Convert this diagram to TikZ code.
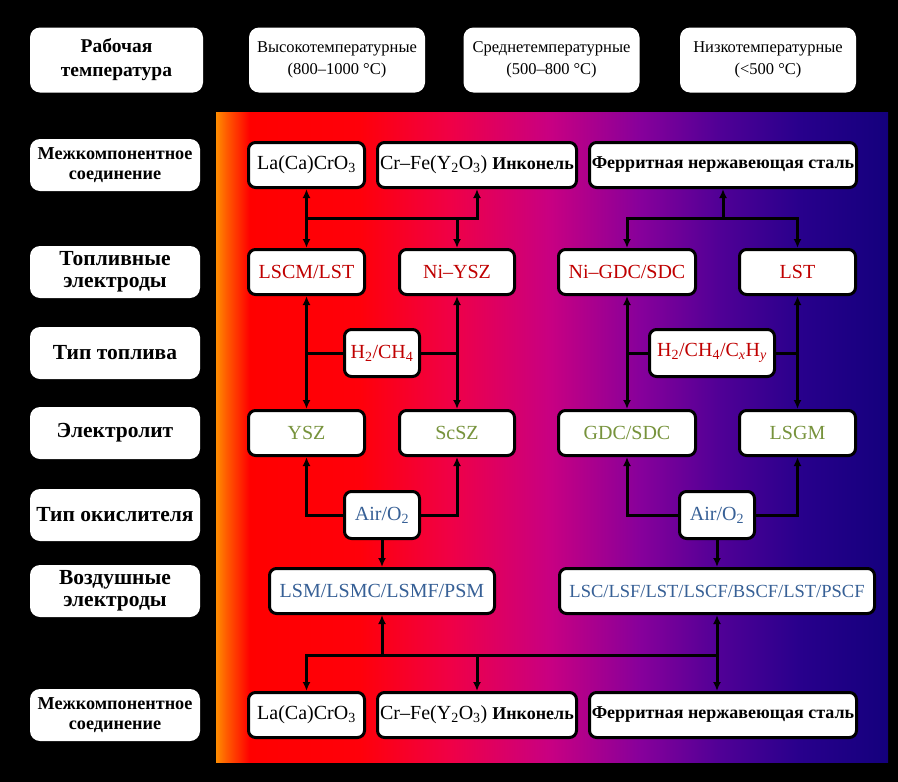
\documentclass[tikz,border=0pt]{standalone}
\usepackage{fontspec}
\IfFontExistsTF{LiberationSerif-Regular.ttf}{\setmainfont{LiberationSerif}[Extension=.ttf,UprightFont=*-Regular,BoldFont=*-Bold,ItalicFont=*-Italic,BoldItalicFont=*-BoldItalic]}{\setmainfont{DejaVu Serif}}
\usetikzlibrary{arrows.meta}
\definecolor{fred}{RGB}{192,0,0}
\definecolor{fgreen}{RGB}{119,147,60}
\definecolor{fblue}{RGB}{55,96,150}
\definecolor{ga}{RGB}{255,140,0}
\definecolor{gb}{RGB}{255,90,0}
\definecolor{gc}{RGB}{255,0,0}
\definecolor{gd}{RGB}{255,0,10}
\definecolor{ge}{RGB}{240,0,70}
\definecolor{gf}{RGB}{200,0,130}
\definecolor{gg}{RGB}{135,0,155}
\definecolor{gh}{RGB}{80,0,150}
\definecolor{gi}{RGB}{40,0,140}
\definecolor{gj}{RGB}{20,0,125}
\pgfdeclarehorizontalshading{fcgrad}{100bp}{color(0bp)=(ga); color(25bp)=(ga); color(25.8bp)=(gb); color(27.5bp)=(gc); color(35.7bp)=(gd); color(42.4bp)=(ge); color(49.85bp)=(gf); color(56.55bp)=(gg); color(62.5bp)=(gh); color(68.45bp)=(gi); color(75bp)=(gj); color(100bp)=(gj)}
\newcommand\mfont{\fontsize{20}{23}\selectfont}
\newcommand\bfont{\bfseries\fontsize{18}{22}\selectfont}
\newcommand\lfont{\bfseries\fontsize{21.5}{22}\selectfont}
\newcommand\sfont{\bfseries\fontsize{18.2}{20}\selectfont}
\newcommand\hfont{\fontsize{16.5}{21.5}\selectfont}
\begin{document}
\begin{tikzpicture}[x=1pt,y=-1pt,
  box/.style={draw=black, line width=3pt, fill=white, rounded corners=7pt, inner sep=1pt, align=center, font=\mfont, minimum height=45pt},
  lab/.style={fill=white, rounded corners=10pt, minimum width=170pt, minimum height=52pt, align=center, font=\lfont, inner sep=1pt},
  hdr/.style={fill=white, rounded corners=10pt, minimum width=176pt, minimum height=65pt, align=center, font=\hfont, inner sep=1pt},
  conn/.style={line width=3pt, draw=black},
  arr/.style={conn, -{Latex[length=9pt,width=8pt]}},
  darr/.style={conn, {Latex[length=9pt,width=8pt]}-{Latex[length=9pt,width=8pt]}}]
\fill[black] (0,0) rectangle (898,782);
\useasboundingbox (0,0) rectangle (898,782);
\shade[shading=fcgrad] (216,112) rectangle (888,762);
% header row
\node[hdr, font=\bfseries\fontsize{19.5}{24}\selectfont, minimum width=173pt] (t0) at (116.5,60) {Рабочая\\температура};
\node[hdr] (t1) at (337,60) {Высокотемпературные\\(800–1000 °C)};
\node[hdr] (t2) at (551.5,60) {Среднетемпературные\\(500–800 °C)};
\node[hdr] (t3) at (768,60) {Низкотемпературные\\(<500 °C)};
% left labels
\node[lab, font=\sfont] (l1) at (115,165) {Межкомпонентное\\соединение};
\node[lab] (l2) at (115,272) {Топливные\\электроды};
\node[lab] (l3) at (115,353) {Тип топлива};
\node[lab] (l4) at (115,433) {Электролит};
\node[lab] (l5) at (115,515) {Тип окислителя};
\node[lab] (l6) at (115,591) {Воздушные\\электроды};
\node[lab, font=\sfont] (l7) at (115,715) {Межкомпонентное\\соединение};
% row 1 interconnects
\node[box, minimum width=116pt] (ic1a) at (306.5,165) {La(Ca)CrO\textsubscript{3}};
\node[box, minimum width=199pt] (ic1b) at (477,165) {Cr–Fe(Y\textsubscript{2}O\textsubscript{3}) {\bfont Инконель}};
\node[box, minimum width=267pt] (ic1c) at (723,165) {\bfont Ферритная нержавеющая сталь};
% row 2 fuel electrodes
\node[box, text=fred, minimum width=116pt] (fe1) at (306.5,272) {LSCM/LST};
\node[box, text=fred, minimum width=115pt] (fe2) at (457,272) {Ni–YSZ};
\node[box, text=fred, minimum width=137pt] (fe3) at (627,272) {Ni–GDC/SDC};
\node[box, text=fred, minimum width=116pt] (fe4) at (797.5,272) {LST};
% row 3 fuels
\node[box, text=fred, minimum width=75pt, minimum height=47pt] (fu1) at (382,353) {H\textsubscript{2}/CH\textsubscript{4}};
\node[box, text=fred, minimum width=125pt, minimum height=47pt] (fu2) at (712,353) {H\textsubscript{2}/CH\textsubscript{4}/C\textsubscript{\textit{x}}H\textsubscript{\textit{y}}};
% row 4 electrolytes
\node[box, text=fgreen, minimum width=116pt] (el1) at (306.5,433) {YSZ};
\node[box, text=fgreen, minimum width=115pt] (el2) at (457,433) {ScSZ};
\node[box, text=fgreen, minimum width=137pt] (el3) at (627,433) {GDC/SDC};
\node[box, text=fgreen, minimum width=116pt] (el4) at (797.5,433) {LSGM};
% row 5 oxidants
\node[box, text=fblue, minimum width=75pt, minimum height=47pt] (ox1) at (382,515) {Air/O\textsubscript{2}};
\node[box, text=fblue, minimum width=75pt, minimum height=47pt] (ox2) at (717,515) {Air/O\textsubscript{2}};
% row 6 air electrodes
\node[box, text=fblue, minimum width=225pt] (ae1) at (382,591) {LSM/LSMC/LSMF/PSM};
\node[box, text=fblue, minimum width=315pt, font=\fontsize{18.5}{22}\selectfont] (ae2) at (717,591) {LSC/LSF/LST/LSCF/BSCF/LST/PSCF};
% row 7 interconnects
\node[box, minimum width=116pt] (ic2a) at (306.5,715) {La(Ca)CrO\textsubscript{3}};
\node[box, minimum width=199pt] (ic2b) at (477,715) {Cr–Fe(Y\textsubscript{2}O\textsubscript{3}) {\bfont Инконель}};
\node[box, minimum width=267pt] (ic2c) at (723,715) {\bfont Ферритная нержавеющая сталь};
% junctions top
\coordinate (jA) at (306.5,218);
\coordinate (jB) at (477,218);
\coordinate (jC) at (457,218);
\coordinate (jD) at (723,218);
\coordinate (jE) at (627,218);
\coordinate (jF) at (797.5,218);
\draw[conn, line cap=rect] (jA) -- (jB);
\draw[conn, line cap=rect] (jE) -- (jF);
\draw[arr] (jA) -- (ic1a.south);
\draw[arr] (jB) -- (ic1b.south);
\draw[arr] (jA) -- (fe1.north);
\draw[arr] (jC) -- (fe2.north);
\draw[arr] (jD) -- (ic1c.south);
\draw[arr] (jE) -- (fe3.north);
\draw[arr] (jF) -- (fe4.north);
% fuel electrodes to electrolytes
\draw[darr] (fe1.south) -- (el1.north);
\draw[darr] (fe2.south) -- (el2.north);
\draw[darr] (fe3.south) -- (el3.north);
\draw[darr] (fe4.south) -- (el4.north);
\draw[conn] (fu1.west) -- (fu1.west -| fe1.south);
\draw[conn] (fu1.east) -- (fu1.east -| fe2.south);
\draw[conn] (fu2.west) -- (fu2.west -| fe3.south);
\draw[conn] (fu2.east) -- (fu2.east -| fe4.south);
% oxidants
\draw[arr] (ox1.west) -| (el1.south);
\draw[arr] (ox1.east) -| (el2.south);
\draw[arr] (ox2.west) -| (el3.south);
\draw[arr] (ox2.east) -| (el4.south);
\draw[arr] (ox1.south) -- (ae1.north);
\draw[arr] (ox2.south) -- (ae2.north);
% bottom junctions
\coordinate (jG) at (382,655);
\coordinate (jH) at (306.5,655);
\coordinate (jI) at (477,655);
\coordinate (jJ) at (717,655);
\draw[conn, line cap=rect] (jH) -- (jJ);
\draw[arr] (jG) -- (ae1.south);
\draw[arr] (jJ) -- (ae2.south);
\draw[arr] (jH) -- (ic2a.north);
\draw[arr] (jI) -- (ic2b.north);
\draw[arr] (jJ) -- (jJ |- ic2c.north);
\end{tikzpicture}
\end{document}
